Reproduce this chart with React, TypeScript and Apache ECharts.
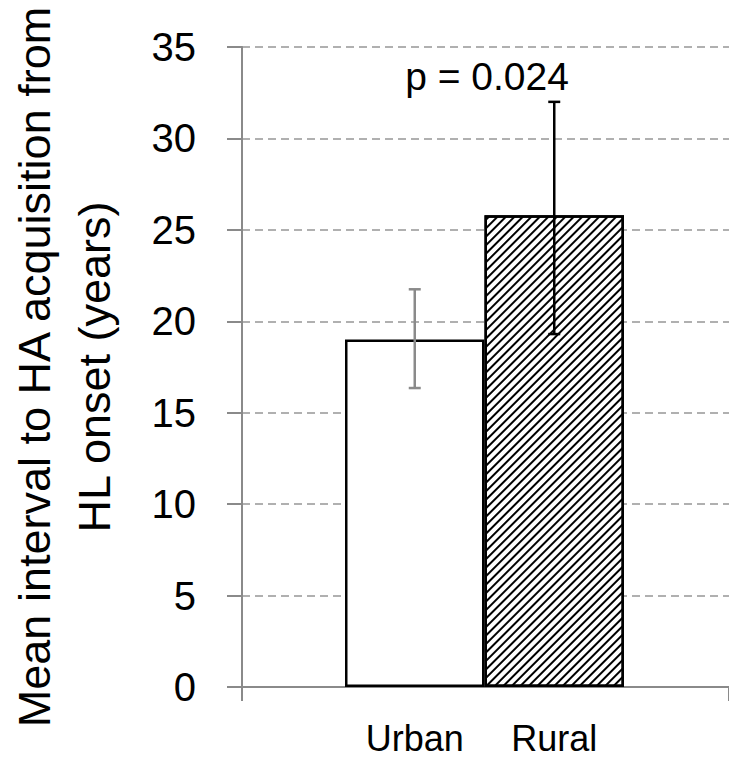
import React, { useEffect, useRef } from "react";
import * as echarts from "echarts";

const categories = ["Urban", "Rural"];
const means = [19.0, 25.8];
const errLow = [16.35, 19.3];
const errHigh = [21.75, 32.0];
const errColors = ["#8a8a8a", "#000000"];
const yTicks = { min: 0, max: 35, interval: 5 };
const yTitle = "Mean interval to HA acquisition from\nHL onset (years)";
const pText = "p = 0.024";

const FONT = "Liberation Sans";

export default function App() {
  const ref = useRef<HTMLDivElement>(null);
  useEffect(() => {
    if (!ref.current) return;
    const chart = echarts.init(ref.current, undefined, { renderer: "svg" });
    const option: any = {
      animation: false,
      backgroundColor: "#ffffff",
      textStyle: { fontFamily: FONT },
      grid: [
        { left: 242, right: 0, top: 47, bottom: 76, outerBoundsMode: "none", containLabel: false },
        { left: 345, right: 105, top: 47, bottom: 76, outerBoundsMode: "none", containLabel: false },
      ],
      xAxis: [
        {
          gridIndex: 0,
          type: "category",
          data: [""],
          axisLine: { lineStyle: { color: "#8a8a8a", width: 2 } },
          axisTick: { show: true, length: 14, lineStyle: { color: "#8a8a8a", width: 2 } },
          axisLabel: { show: false },
        },
        {
          gridIndex: 1,
          type: "category",
          data: categories,
          axisLine: { show: false },
          axisTick: { show: false },
          axisLabel: { color: "#000", fontSize: 36, fontFamily: FONT, margin: 33 },
        },
      ],
      yAxis: [
        {
          gridIndex: 0,
          type: "value",
          min: yTicks.min,
          max: yTicks.max,
          interval: yTicks.interval,
          name: yTitle,
          nameLocation: "middle",
          nameRotate: 90,
          nameGap: 118,
          nameTextStyle: { color: "#000", fontSize: 45, lineHeight: 60, fontFamily: FONT },
          axisLine: { show: true, lineStyle: { color: "#8a8a8a", width: 2 } },
          axisTick: { show: true, length: 15, lineStyle: { color: "#8a8a8a", width: 2 } },
          axisLabel: { color: "#000", fontSize: 40, fontFamily: FONT, margin: 46 },
          splitLine: { show: true, lineStyle: { color: "#b0b0b0", width: 2, type: [8, 5] } },
        },
        {
          gridIndex: 1,
          type: "value",
          min: yTicks.min,
          max: yTicks.max,
          interval: yTicks.interval,
          show: false,
          splitLine: { show: false },
        },
      ],
      series: [
        {
          type: "bar",
          xAxisIndex: 1,
          yAxisIndex: 1,
          barWidth: "100%",
          barCategoryGap: "0%",
          data: means.map((v, i) => ({
            value: v,
            itemStyle:
              i === 0
                ? { color: "#ffffff", borderColor: "#000", borderWidth: 2.5 }
                : {
                    color: "#ffffff",
                    borderColor: "#000",
                    borderWidth: 2.5,
                    decal: {
                      symbol: "rect",
                      symbolSize: 1,
                      dashArrayX: [[1, 0]],
                      dashArrayY: [1.8, 3.2],
                      rotation: -Math.PI / 4,
                      color: "#000000",
                      backgroundColor: "#ffffff",
                    },
                  },
          })),
          z: 2,
        },
        {
          type: "custom",
          xAxisIndex: 1,
          yAxisIndex: 1,
          z: 5,
          data: categories.map((_, i) => [i, errLow[i], errHigh[i]]),
          renderItem: (params: any, api: any) => {
            const i = api.value(0);
            const lo = api.coord([i, api.value(1)]);
            const hi = api.coord([i, api.value(2)]);
            const color = errColors[params.dataIndex];
            const hw = 6;
            const style = { stroke: color, lineWidth: 2.5, fill: "none" };
            return {
              type: "group",
              children: [
                { type: "line", shape: { x1: lo[0], y1: lo[1], x2: hi[0], y2: hi[1] }, style },
                { type: "line", shape: { x1: lo[0] - hw, y1: lo[1], x2: lo[0] + hw, y2: lo[1] }, style },
                { type: "line", shape: { x1: hi[0] - hw, y1: hi[1], x2: hi[0] + hw, y2: hi[1] }, style },
              ],
            };
          },
        },
      ],
      graphic: [
        {
          type: "text",
          x: 487,
          y: 76,
          style: {
            text: pText,
            fontSize: 39,
            fontFamily: FONT,
            fill: "#000",
            textAlign: "center",
            textVerticalAlign: "middle",
          },
        },
      ],
    };
    chart.setOption(option);
    return () => chart.dispose();
  }, []);
  return (
    <div
      ref={ref}
      style={{ position: "fixed", left: 0, top: 0, width: 729, height: 763, background: "#fff" }}
    />
  );
}
